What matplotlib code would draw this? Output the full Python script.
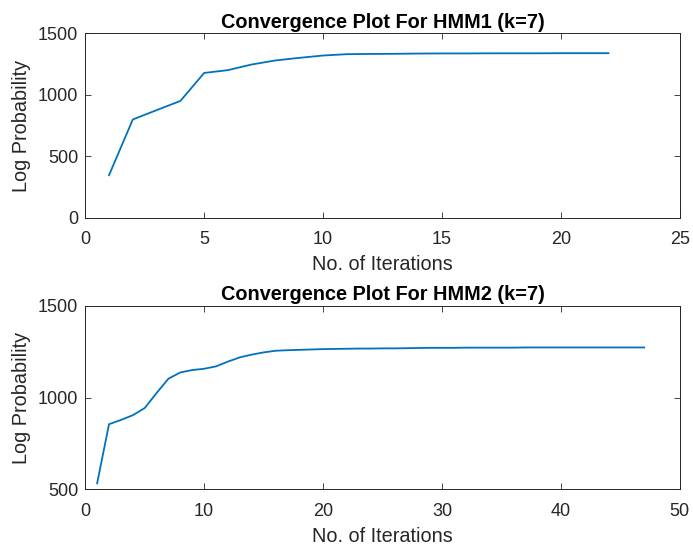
import matplotlib
matplotlib.use("Agg")
import matplotlib.pyplot as plt

# HMM1 log probability per iteration
iters1 = list(range(1, 23))
logp1 = [345, 799, 875, 950, 1178, 1201, 1247, 1280, 1301, 1320, 1331,
         1333, 1334, 1336, 1337, 1337, 1338, 1338, 1338, 1339, 1339, 1339]

# HMM2 log probability per iteration
iters2 = list(range(1, 48))
logp2 = [533, 855, 878, 904, 943, 1025, 1103, 1137, 1150, 1157, 1170,
         1196, 1219, 1234, 1246, 1255, 1258, 1260, 1262, 1264, 1265, 1266,
         1267, 1267, 1268, 1268, 1269, 1270, 1271, 1271, 1271, 1272, 1272,
         1272, 1272, 1272, 1273, 1273, 1273, 1273, 1273, 1273, 1273, 1273,
         1273, 1273, 1273]

plt.rcParams['font.family'] = ['Liberation Sans', 'DejaVu Sans']
line_color = '#0072BD'
ax_color = '#262626'

fig = plt.figure(figsize=(6.93, 5.48), dpi=100)
ax1 = fig.add_axes([0.123, 0.603, 0.858, 0.336])
ax2 = fig.add_axes([0.123, 0.107, 0.858, 0.335])


def style(ax, title, xlim, ylim, xticks, yticks):
    ax.set_xlim(*xlim)
    ax.set_ylim(*ylim)
    ax.set_xticks(xticks)
    ax.set_yticks(yticks)
    ax.tick_params(direction='in', top=True, right=True, length=4,
                   width=0.6, colors=ax_color, labelsize=13)
    ax.tick_params(axis='x', pad=10)
    ax.tick_params(axis='y', pad=5)
    for s in ax.spines.values():
        s.set_color(ax_color)
        s.set_linewidth(0.7)
    ax.set_title(title, fontsize=14.3, fontweight='bold', pad=4)
    ax.set_xlabel('No. of Iterations', fontsize=14.3, color=ax_color, labelpad=5)
    ax.set_ylabel('Log Probability', fontsize=14.3, color=ax_color, labelpad=5)


ax1.plot(iters1, logp1, color=line_color, lw=1.3)
style(ax1, 'Convergence Plot For HMM1 (k=7)', (0, 25), (0, 1500),
      [0, 5, 10, 15, 20, 25], [0, 500, 1000, 1500])

ax2.plot(iters2, logp2, color=line_color, lw=1.3)
style(ax2, 'Convergence Plot For HMM2 (k=7)', (0, 50), (500, 1500),
      [0, 10, 20, 30, 40, 50], [500, 1000, 1500])

fig.savefig('out.png', dpi=100)
